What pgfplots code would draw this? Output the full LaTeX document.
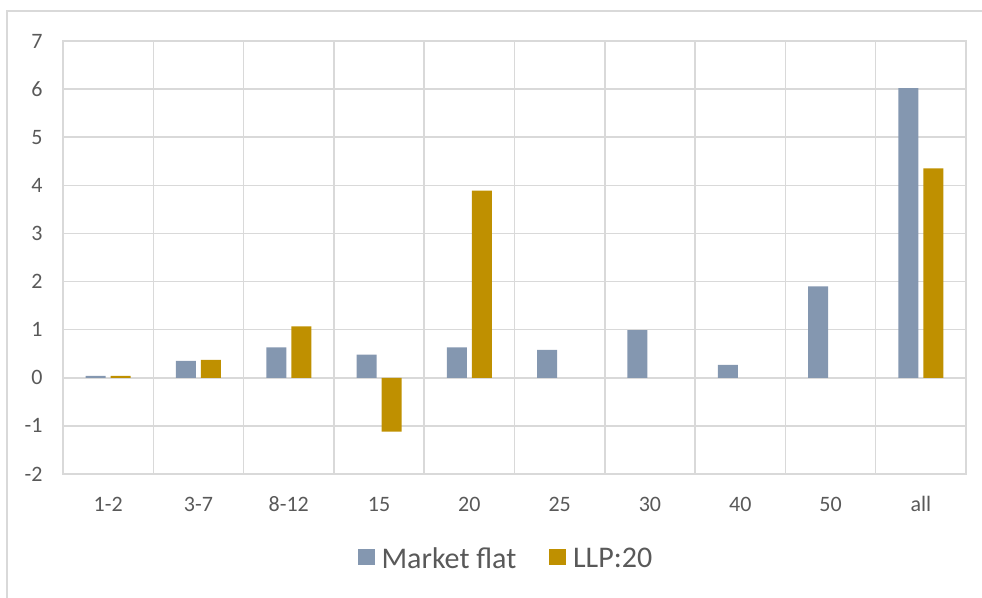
\documentclass[border=0pt]{standalone}
\usepackage{fontspec}
\setmainfont{Carlito}
\usepackage{pgfplots}
\usepackage{pgfplotstable}
\pgfplotsset{compat=1.18}

\definecolor{gridgray}{HTML}{D9D9D9}
\definecolor{labelgray}{HTML}{595959}
\definecolor{flatblue}{HTML}{8497B0}
\definecolor{llpgold}{HTML}{BF9000}

% category index, Market flat, LLP:20
\pgfplotstableread{
x mf   llp
0 0.04 0.04
1 0.35 0.37
2 0.63 1.07
3 0.48 -1.12
4 0.63 3.89
5 0.58 nan
6 0.99 nan
7 0.27 nan
8 1.90 nan
9 6.02 4.35
}\data

\begin{document}
\begin{tikzpicture}
\path[use as bounding box] (0,0) rectangle (491pt,299pt);
% chart frame (top and left edges)
\draw[gridgray, line width=0.75pt] (3.5pt,0pt) -- (3.5pt,293.5pt) -- (491pt,293.5pt);
\begin{axis}[
  at={(31.5pt,62pt)}, anchor=south west,
  scale only axis, width=451.5pt, height=216.5pt,
  xmin=-0.5, xmax=9.5, ymin=-2, ymax=7,
  ybar=2.5pt, bar width=10pt,
  xtick={0,...,9},
  xticklabels={1-2,3-7,8-12,15,20,25,30,40,50,all},
  ytick={-2,...,7},
  yticklabels={-2,-1,0,1,2,3,4,5,6,7},
  minor xtick={0.5,1.5,...,8.5},
  xminorgrids, ymajorgrids,
  grid style={gridgray, line width=0.75pt},
  minor grid style={gridgray, line width=0.75pt},
  axis line style={gridgray, line width=0.75pt},
  major tick length=0pt, minor tick length=0pt,
  tick label style={font=\fontsize{11}{13}\selectfont, text=labelgray, inner sep=0pt},
  yticklabel style={anchor=east, xshift=-10pt},
  xticklabel style={anchor=base, yshift=-19pt},
  legend columns=2,
  legend style={at={(0.4895,-0.197)}, anchor=center, draw=none, fill=none,
    font=\fontsize{15}{17}\selectfont, text=labelgray,
    nodes={inner sep=0pt},
    /tikz/column 1/.style={column sep=3.5pt},
    /tikz/column 2/.style={column sep=16.5pt},
    /tikz/column 3/.style={column sep=3.5pt}},
  legend image code/.code={\fill[#1] (0pt,-3pt) rectangle (8.4pt,5.2pt);},
]
\addplot[fill=flatblue, draw=none] table[x=x, y=mf] {\data};
\addlegendentry{Market flat}
\addplot[fill=llpgold, draw=none] table[x=x, y=llp] {\data};
\addlegendentry{LLP:20}
\end{axis}
\end{tikzpicture}
\end{document}
